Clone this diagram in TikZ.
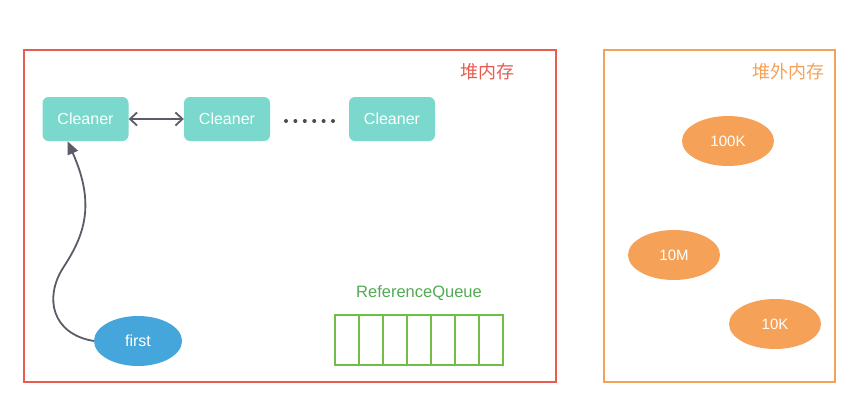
\documentclass[tikz,border=0pt]{standalone}
\usepackage{fontspec}
\setmainfont{Liberation Sans}
\newfontfamily\cjk{Noto Sans CJK SC}
\definecolor{heapred}{RGB}{232, 92, 80}
\definecolor{offorange}{RGB}{245, 162, 88}
\definecolor{cleanteal}{RGB}{122, 216, 204}
\definecolor{firstblue}{RGB}{68, 166, 218}
\definecolor{queuegreen}{RGB}{112, 190, 72}
\definecolor{queuetext}{RGB}{82, 170, 82}
\definecolor{linkgray}{RGB}{92, 92, 104}
\usetikzlibrary{shapes.geometric, arrows.meta, positioning, calc}
\tikzset{
    membox/.style={draw, rectangle, line width=2pt, minimum height=332pt},
    cleaner/.style={rectangle, rounded corners=6pt, fill=cleanteal, text=white, minimum width=86pt, minimum height=44pt, font=\fontsize{16}{18}\selectfont},
    blob/.style={ellipse, fill=offorange, text=white, minimum width=92pt, minimum height=50pt, inner sep=0pt, font=\fontsize{15}{17}\selectfont},
    cell/.style={draw=queuegreen, rectangle, line width=1.5pt, minimum width=24pt, minimum height=50pt, inner sep=0pt},
    dotmark/.style={circle, fill=linkgray!80!black, minimum size=4pt, inner sep=0pt},
    refarrow/.style={-{Triangle[length=13pt, width=11pt]}, line width=1.8pt, draw=linkgray},
    linkarrow/.style={{Straight Barb[length=7pt, width=13pt]}-{Straight Barb[length=7pt, width=13pt]}, line width=1.8pt, draw=linkgray},
}

\begin{document}
\begin{tikzpicture}[x=1pt, y=-1pt]
    \useasboundingbox (0,0) rectangle (863,418);
    \fill[white] (0,0) rectangle (863,418);

    % Heap and off-heap regions
    \node[membox, draw=heapred, minimum width=532pt] (heap) at (290, 216) {};
    \node[font=\cjk\fontsize{18}{20}\selectfont, text=heapred, anchor=east] (heaplbl) at (518, 72) {堆内存};
    \node[membox, draw=offorange, minimum width=231pt] (offheap) at (719.5, 216) {};
    \node[font=\cjk\fontsize{18}{20}\selectfont, text=offorange, anchor=east] (offlbl) at (828, 72) {堆外内存};

    % Cleaner chain
    \node[cleaner] (c1) at (85.5, 119) {Cleaner};
    \node[cleaner] (c2) at (227, 119) {Cleaner};
    \node[cleaner] (c3) at (392, 119) {Cleaner};
    \foreach \k in {0,...,5}
        \node[dotmark] (dot\k) at (286 + 9.4*\k, 121) {};
    \draw[linkarrow] (c1) -- (c2);

    % first reference
    \node[ellipse, fill=firstblue, text=white, minimum width=88pt, minimum height=50pt, inner sep=0pt, font=\fontsize{16}{18}\selectfont] (first) at (138, 341) {first};
    \coordinate (bend) at (63, 268);
    \draw[refarrow] (first.west) .. controls (52, 334) and (44, 298) .. (bend)
        .. controls (84, 236) and (96, 205) .. ($(c1.south)+(-18,0)$);

    % ReferenceQueue
    \node[font=\fontsize{16.5}{18}\selectfont, text=queuetext] (rqlbl) at (419, 293) {ReferenceQueue};
    \foreach \i in {0,...,6}
        \node[cell] (q\i) at (347 + 24*\i, 340) {};

    % Off-heap blocks
    \node[blob] (b100k) at (728, 141) {100K};
    \node[blob] (b10m) at (674, 255) {10M};
    \node[blob] (b10k) at (775, 324) {10K};
\end{tikzpicture}
\end{document}
